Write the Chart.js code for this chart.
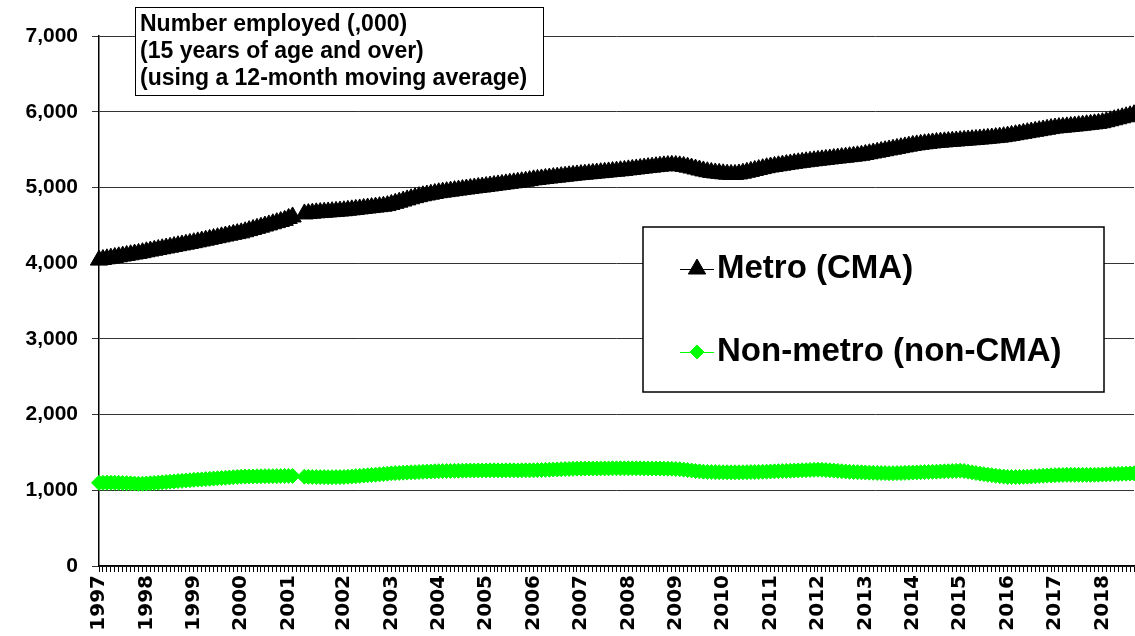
<!DOCTYPE html>
<html>
<head>
<meta charset="utf-8">
<script src="https://cdn.jsdelivr.net/npm/chart.js@4.4.0/dist/chart.umd.min.js"></script>
<style>
  html, body { margin: 0; padding: 0; background: #fff; }
  #wrap { width: 1135px; height: 636px; }
</style>
</head>
<body>
<div id="wrap"><canvas id="myChart" width="1135" height="636"></canvas></div>
<script>
// x axis: one label per year, placed on January
var years = ['1997','1998','1999','2000','2001','2002','2003','2004','2005','2006','2007',
             '2008','2009','2010','2011','2012','2013','2014','2015','2016','2017','2018'];
var monthsInLastYear = 9;

// the series has a short break after Feb 2001
var gapAfter = '2001-02';
var gapLength = 2;

var seriesNames = ['Metro (CMA)', 'Non-metro (non-CMA)'];
var seriesColors = ['#000000', '#00ff00'];

// thousands employed, monthly (12-month moving average)
var metro = [
  4040,4048,4057,4066,4075,4084,4093,4102,4111,4120,4129,4138, // 1997
  4150,4160,4170,4180,4190,4200,4210,4220,4230,4240,4250,4260, // 1998
  4270,4281,4292,4303,4314,4325,4336,4347,4358,4369,4380,4390, // 1999
  4400,4415,4430,4445,4460,4475,4490,4505,4520,4535,4550,4565, // 2000
  4590,4610,4650,4655,4660,4665,4668,4672,4676,4680,4684,4688, // 2001
  4692,4698,4704,4710,4716,4722,4728,4734,4740,4746,4752,4760, // 2002
  4775,4790,4805,4820,4835,4850,4865,4878,4890,4900,4910,4920, // 2003
  4930,4937,4944,4951,4958,4965,4972,4979,4986,4993,5000,5005, // 2004
  5012,5019,5026,5033,5040,5047,5054,5061,5068,5075,5082,5090, // 2005
  5100,5106,5112,5118,5124,5130,5136,5142,5148,5154,5160,5165, // 2006
  5170,5175,5180,5185,5190,5195,5200,5205,5210,5215,5220,5225, // 2007
  5232,5238,5244,5250,5256,5262,5268,5274,5280,5285,5289,5292, // 2008
  5290,5285,5278,5268,5256,5243,5230,5218,5207,5198,5191,5186, // 2009
  5180,5175,5172,5172,5178,5188,5200,5212,5224,5236,5248,5260, // 2010
  5270,5278,5286,5294,5302,5310,5318,5325,5332,5339,5346,5352, // 2011
  5358,5364,5370,5376,5382,5388,5394,5400,5406,5412,5418,5425, // 2012
  5435,5445,5455,5465,5475,5485,5495,5505,5515,5525,5535,5545, // 2013
  5555,5562,5569,5576,5582,5588,5593,5598,5602,5606,5610,5614, // 2014
  5618,5622,5626,5630,5634,5638,5643,5648,5653,5658,5664,5670, // 2015
  5678,5687,5696,5705,5714,5723,5732,5741,5750,5759,5768,5777, // 2016
  5785,5790,5795,5800,5805,5810,5816,5822,5828,5834,5840,5846, // 2017
  5855,5868,5881,5894,5907,5920,5933,5946,5960                 // 2018
];

var nonMetro = [
  1098,1099,1100,1100,1099,1098,1096,1094,1092,1089,1086,1087, // 1997
  1090,1093,1097,1101,1105,1109,1113,1117,1121,1125,1129,1133, // 1998
  1138,1141,1144,1148,1151,1155,1158,1162,1165,1169,1172,1176, // 1999
  1180,1181,1182,1183,1184,1185,1186,1186,1187,1187,1188,1189, // 2000
  1190,1190,1180,1178,1176,1175,1174,1174,1173,1173,1174,1174, // 2001
  1175,1178,1182,1186,1190,1194,1198,1202,1206,1210,1214,1219, // 2002
  1224,1227,1229,1232,1234,1237,1239,1241,1244,1246,1248,1251, // 2003
  1253,1254,1255,1256,1257,1258,1259,1260,1261,1261,1262,1262, // 2004
  1262,1263,1264,1263,1262,1263,1264,1263,1262,1263,1264,1263, // 2005
  1264,1266,1268,1270,1272,1274,1276,1278,1280,1282,1284,1286, // 2006
  1286,1287,1287,1288,1288,1289,1289,1289,1290,1290,1290,1290, // 2007
  1290,1290,1290,1290,1289,1289,1288,1288,1287,1286,1285,1283, // 2008
  1281,1278,1273,1267,1261,1255,1250,1246,1243,1241,1240,1239, // 2009
  1238,1238,1237,1237,1237,1238,1239,1240,1241,1242,1244,1246, // 2010
  1248,1250,1252,1254,1256,1258,1260,1262,1264,1266,1268,1270, // 2011
  1272,1270,1267,1264,1260,1256,1252,1248,1244,1241,1239,1237, // 2012
  1235,1233,1231,1229,1228,1227,1226,1226,1227,1228,1230,1232, // 2013
  1234,1236,1238,1240,1242,1244,1246,1248,1250,1252,1254,1256, // 2014
  1259,1254,1246,1237,1228,1220,1213,1206,1199,1192,1186,1181, // 2015
  1177,1175,1175,1176,1178,1180,1182,1185,1188,1191,1194,1197, // 2016
  1200,1202,1203,1204,1204,1204,1204,1204,1204,1204,1205,1206, // 2017
  1208,1210,1212,1214,1216,1218,1220,1222,1224                 // 2018
];

var yMin = 0, yMax = 7000, yStep = 1000;

var titleLines = ['Number employed (,000)', '(15 years of age and over)', '(using a 12-month moving average)'];

var FONT = '"Liberation Sans", Arial, sans-serif';
Chart.defaults.font.family = FONT;
Chart.defaults.color = '#000';

// lay the monthly values onto categories, leaving empty slots for the break
function buildData(){
  var labels = [], m = [], n = [];
  var k = 0;
  for (var i = 0; i < years.length; i++){
    var count = (i == years.length - 1) ? monthsInLastYear : 12;
    for (var mo = 1; mo <= count; mo++){
      labels.push(mo == 1 ? years[i] : '');
      m.push(metro[k]);
      n.push(nonMetro[k]);
      k++;
      var key = years[i] + '-' + (mo < 10 ? '0' + mo : mo);
      if (key == gapAfter){
        for (var g = 0; g < gapLength; g++){
          labels.push('');
          m.push(null);
          n.push(null);
        }
      }
    }
  }
  return {labels: labels, metro: m, nonMetro: n};
}

var boxesPlugin = {
  id: 'boxes',
  afterDraw: function(chart){
    var ctx = chart.ctx;
    ctx.save();

    // title box
    ctx.fillStyle = '#fff';
    ctx.fillRect(135, 7, 408, 88);
    ctx.strokeStyle = '#000';
    ctx.lineWidth = 1;
    ctx.strokeRect(135.5, 7.5, 408, 88);
    ctx.fillStyle = '#000';
    ctx.font = 'bold 23px ' + FONT;
    ctx.textBaseline = 'alphabetic';
    ctx.textAlign = 'left';
    for (var i = 0; i < titleLines.length; i++){
      ctx.fillText(titleLines[i], 140, 31 + i * 27);
    }

    // legend box
    ctx.fillStyle = '#fff';
    ctx.fillRect(643, 227, 461, 165);
    ctx.strokeStyle = '#000';
    ctx.lineWidth = 1.5;
    ctx.strokeRect(643, 227, 461, 165);

    var rows = [269, 352];
    var styles = ['triangle', 'rectRot'];
    var radii = [10, 7];
    ctx.font = 'bold 33px ' + FONT;
    ctx.textBaseline = 'middle';
    for (var j = 0; j < seriesNames.length; j++){
      var y = rows[j];
      ctx.strokeStyle = seriesColors[j];
      ctx.fillStyle = seriesColors[j];
      ctx.lineWidth = 1;
      ctx.beginPath();
      ctx.moveTo(680, y + 0.5);
      ctx.lineTo(714, y + 0.5);
      ctx.stroke();
      Chart.helpers.drawPoint(ctx, {pointStyle: styles[j], radius: radii[j], rotation: 0, borderWidth: 1}, 697, y);
      ctx.fillStyle = '#000';
      ctx.fillText(seriesNames[j], 717, y);
    }
    ctx.restore();
  }
};

function drawChart(){
  var d = buildData();
  var ctx = document.getElementById('myChart');
  var myChart = new Chart(ctx, {
    type: 'line',
    data: {
      labels: d.labels,
      datasets: [{
        label: seriesNames[0],
        data: d.metro,
        borderColor: seriesColors[0],
        backgroundColor: seriesColors[0],
        borderWidth: 1,
        pointStyle: 'triangle',
        pointRadius: 10,
        pointBorderWidth: 1,
        pointHoverRadius: 10,
        clip: false
      }, {
        label: seriesNames[1],
        data: d.nonMetro,
        borderColor: seriesColors[1],
        backgroundColor: seriesColors[1],
        borderWidth: 1,
        pointStyle: 'rectRot',
        pointRadius: 7.5,
        pointBorderWidth: 1,
        pointHoverRadius: 7.5,
        clip: false
      }]
    },
    options: {
      responsive: false,
      animation: false,
      events: [],
      layout: { autoPadding: false, padding: { top: 36, right: 1, left: 0, bottom: 0 } },
      plugins: {
        legend: { display: false },
        tooltip: { enabled: false },
        title: { display: false }
      },
      scales: {
        x: {
          type: 'category',
          offset: false,
          afterFit: function(scale){
            scale.height = 70;
            scale.paddingLeft = 0;
            scale.paddingRight = 0;
          },
          grid: {
            drawOnChartArea: false,
            drawTicks: true,
            tickLength: 6,
            color: '#000'
          },
          border: { display: true, color: '#000', width: 1.5 },
          ticks: {
            autoSkip: false,
            maxRotation: 90,
            minRotation: 90,
            padding: 3,
            color: '#000',
            font: { family: '"DejaVu Sans", sans-serif', size: 20, weight: 'bold' }
          }
        },
        y: {
          min: yMin,
          max: yMax,
          afterFit: function(scale){
            scale.width = 99;
            scale.paddingTop = 0;
            scale.paddingBottom = 0;
          },
          grid: {
            color: '#333',
            lineWidth: 1,
            tickLength: 7
          },
          border: { display: true, color: '#000', width: 1.5 },
          ticks: {
            stepSize: yStep,
            padding: 14,
            color: '#000',
            font: { size: 21, weight: 'bold' },
            callback: function(v){ return v.toLocaleString('en-US'); }
          }
        }
      }
    },
    plugins: [boxesPlugin]
  });
}

drawChart();
</script>
</body>
</html>
